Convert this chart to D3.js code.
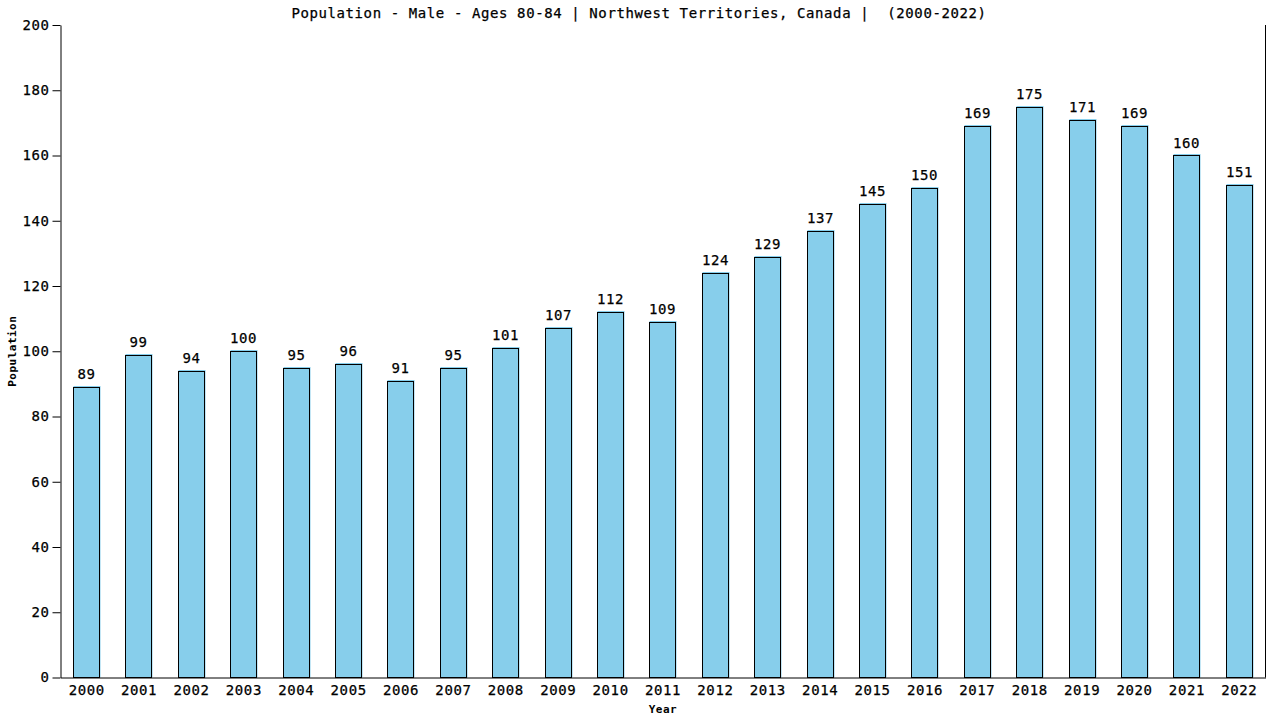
<!DOCTYPE html>
<html><head><meta charset="utf-8">
<script src="https://cdn.jsdelivr.net/npm/d3@7"></script>
<style>
body{margin:0;background:#fff}
text{font-family:"DejaVu Sans Mono",monospace;white-space:pre}
</style></head>
<body><svg id="c" width="1280" height="720"></svg>
<script>
const years = ["2000","2001","2002","2003","2004","2005","2006","2007","2008","2009","2010","2011","2012","2013","2014","2015","2016","2017","2018","2019","2020","2021","2022"];
const values = [89,99,94,100,95,96,91,95,101,107,112,109,124,129,137,145,150,169,175,171,169,160,151];
const yTicks = [0,20,40,60,80,100,120,140,160,180,200];
const titleText = "Population - Male - Ages 80-84 | Northwest Territories, Canada |  (2000-2022)";

const svg = d3.select("#c");
const L = 60.5, R = 1265.5, T = 25, B = 677.5;
const x = d3.scaleBand().domain(years).range([L, R]).paddingInner(0.5).paddingOuter(0.25);
const y = d3.scaleLinear().domain([0, 200]).range([B, T]);

const fs = "14px", ls = "0.6px";

svg.append("text").attr("x", 639).attr("y", 18).attr("text-anchor","middle")
  .attr("xml:space","preserve")
  .style("font-size", fs).style("letter-spacing", ls).style("stroke","#000").style("stroke-width","0.25px").text(titleText);

// bars
const g = svg.append("g");
const bx = i => Math.floor(x(years[i])) + 0.5;
const bw = Math.round(x.bandwidth());
g.selectAll("rect.f").data(values).join("rect").attr("class","f")
  .attr("x", (d,i)=>bx(i))
  .attr("y", d=>Math.round(y(d))-1)
  .attr("width", bw+1)
  .attr("height", d=>B - Math.round(y(d)) + 1)
  .attr("fill","#87CEEB");
g.selectAll("rect.o").data(values).join("rect").attr("class","o")
  .attr("x", (d,i)=>bx(i))
  .attr("y", d=>Math.round(y(d))+0.5)
  .attr("width", bw)
  .attr("height", d=>B - Math.round(y(d)) - 0.5)
  .attr("fill","none").attr("stroke","#000").attr("stroke-width",1);

g.selectAll("text.v").data(values).join("text").attr("class","v")
  .attr("x", (d,i)=>bx(i) + bw/2)
  .attr("y", d=>y(d) - 8)
  .attr("text-anchor","middle").style("font-size", fs).style("letter-spacing", ls)
  .style("stroke","#000").style("stroke-width","0.25px")
  .text(d=>d);

// axes
const ya = svg.append("g").attr("transform",`translate(${L},0)`)
  .call(d3.axisLeft(y).tickValues(yTicks).tickSize(8).tickPadding(3).tickSizeOuter(0));
ya.select(".domain").attr("stroke","#000");
ya.selectAll("text").style("font-size", fs).style("letter-spacing", ls).attr("fill","#000").attr("font-family",null)
  .style("stroke","#000").style("stroke-width","0.25px");

const xa = svg.append("g").attr("transform",`translate(0,${B})`)
  .call(d3.axisBottom(x).tickSize(0).tickPadding(8).tickSizeOuter(0));
xa.select(".domain").attr("stroke","#000");
xa.selectAll("text").style("font-size", fs).style("letter-spacing", ls).attr("fill","#000").attr("font-family",null)
  .style("stroke","#000").style("stroke-width","0.25px");

svg.append("line").attr("x1",R).attr("x2",R).attr("y1",T).attr("y2",B).attr("stroke","#000");

svg.append("text").attr("transform",`translate(16,${(T+B)/2}) rotate(-90)`).attr("text-anchor","middle")
  .style("font-size","11px").style("font-weight","bold").style("letter-spacing","0.5px").text("Population");
svg.append("text").attr("x",(L+R)/2).attr("y",713).attr("text-anchor","middle")
  .style("font-size","11px").style("font-weight","bold").style("letter-spacing","0.5px").text("Year");
</script></body></html>
